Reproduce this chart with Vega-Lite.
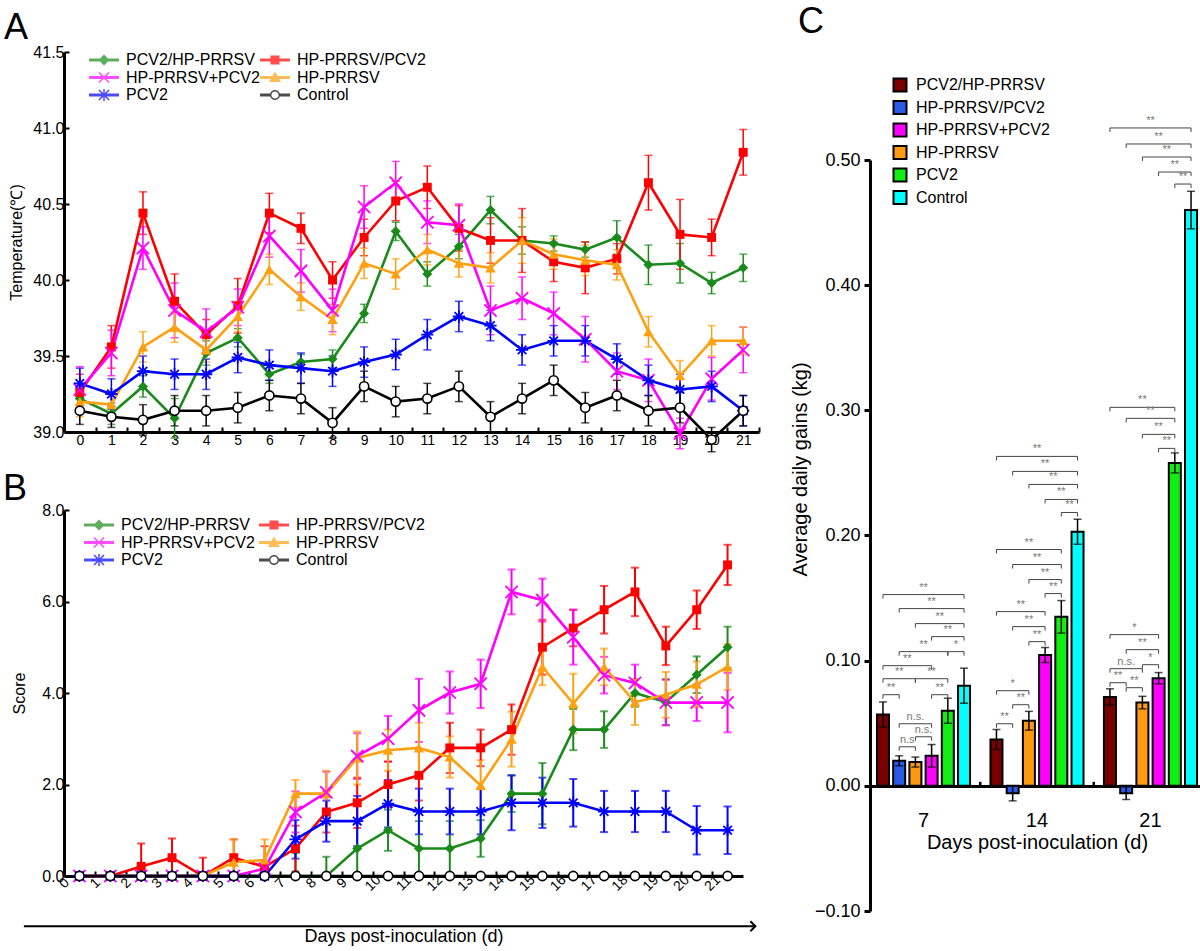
{
"$schema": "https://vega.github.io/schema/vega-lite/v6.json",
"padding": {"left": 3, "top": 4, "right": 2, "bottom": 2},
"background": "white",
"config": {
 "font": "Liberation Sans",
 "view": {"stroke": null},
 "axis": {"labelFont": "Liberation Sans", "titleFont": "Liberation Sans", "labelColor": "black", "titleColor": "black", "domainColor": "black", "tickColor": "black", "domainWidth": 3, "tickWidth": 2, "grid": false, "titleFontWeight": "normal"},
 "legend": {"labelFont": "Liberation Sans", "labelColor": "black"},
 "title": {"font": "Liberation Sans", "fontWeight": "normal", "color": "black"}
},
"datasets": {
 "temp": [
{"day":0,"g":"PCV2/HP-PRRSV","v":39.22,"e":0.06},{"day":1,"g":"PCV2/HP-PRRSV","v":39.12,"e":0.07},{"day":2,"g":"PCV2/HP-PRRSV","v":39.30,"e":0.07},{"day":3,"g":"PCV2/HP-PRRSV","v":39.09,"e":0.13},{"day":4,"g":"PCV2/HP-PRRSV","v":39.52,"e":0.08},{"day":5,"g":"PCV2/HP-PRRSV","v":39.62,"e":0.06},{"day":6,"g":"PCV2/HP-PRRSV","v":39.38,"e":0.06},{"day":7,"g":"PCV2/HP-PRRSV","v":39.46,"e":0.05},{"day":8,"g":"PCV2/HP-PRRSV","v":39.48,"e":0.06},{"day":9,"g":"PCV2/HP-PRRSV","v":39.78,"e":0.06},{"day":10,"g":"PCV2/HP-PRRSV","v":40.32,"e":0.06},{"day":11,"g":"PCV2/HP-PRRSV","v":40.04,"e":0.08},{"day":12,"g":"PCV2/HP-PRRSV","v":40.22,"e":0.08},{"day":13,"g":"PCV2/HP-PRRSV","v":40.46,"e":0.09},{"day":14,"g":"PCV2/HP-PRRSV","v":40.26,"e":0.09},{"day":15,"g":"PCV2/HP-PRRSV","v":40.24,"e":0.05},{"day":16,"g":"PCV2/HP-PRRSV","v":40.20,"e":0.05},{"day":17,"g":"PCV2/HP-PRRSV","v":40.28,"e":0.11},{"day":18,"g":"PCV2/HP-PRRSV","v":40.10,"e":0.13},{"day":19,"g":"PCV2/HP-PRRSV","v":40.11,"e":0.13},{"day":20,"g":"PCV2/HP-PRRSV","v":39.98,"e":0.07},{"day":21,"g":"PCV2/HP-PRRSV","v":40.08,"e":0.09},
{"day":0,"g":"HP-PRRSV/PCV2","v":39.26,"e":0.12},{"day":1,"g":"HP-PRRSV/PCV2","v":39.56,"e":0.14},{"day":2,"g":"HP-PRRSV/PCV2","v":40.44,"e":0.14},{"day":3,"g":"HP-PRRSV/PCV2","v":39.86,"e":0.18},{"day":4,"g":"HP-PRRSV/PCV2","v":39.64,"e":0.10},{"day":5,"g":"HP-PRRSV/PCV2","v":39.83,"e":0.18},{"day":6,"g":"HP-PRRSV/PCV2","v":40.44,"e":0.13},{"day":7,"g":"HP-PRRSV/PCV2","v":40.34,"e":0.10},{"day":8,"g":"HP-PRRSV/PCV2","v":40.00,"e":0.12},{"day":9,"g":"HP-PRRSV/PCV2","v":40.28,"e":0.12},{"day":10,"g":"HP-PRRSV/PCV2","v":40.52,"e":0.13},{"day":11,"g":"HP-PRRSV/PCV2","v":40.61,"e":0.14},{"day":12,"g":"HP-PRRSV/PCV2","v":40.34,"e":0.15},{"day":13,"g":"HP-PRRSV/PCV2","v":40.26,"e":0.15},{"day":14,"g":"HP-PRRSV/PCV2","v":40.26,"e":0.21},{"day":15,"g":"HP-PRRSV/PCV2","v":40.12,"e":0.13},{"day":16,"g":"HP-PRRSV/PCV2","v":40.08,"e":0.17},{"day":17,"g":"HP-PRRSV/PCV2","v":40.14,"e":0.10},{"day":18,"g":"HP-PRRSV/PCV2","v":40.64,"e":0.18},{"day":19,"g":"HP-PRRSV/PCV2","v":40.30,"e":0.23},{"day":20,"g":"HP-PRRSV/PCV2","v":40.28,"e":0.12},{"day":21,"g":"HP-PRRSV/PCV2","v":40.84,"e":0.15},
{"day":0,"g":"HP-PRRSV+PCV2","v":39.28,"e":0.15},{"day":1,"g":"HP-PRRSV+PCV2","v":39.52,"e":0.15},{"day":2,"g":"HP-PRRSV+PCV2","v":40.21,"e":0.14},{"day":3,"g":"HP-PRRSV+PCV2","v":39.80,"e":0.18},{"day":4,"g":"HP-PRRSV+PCV2","v":39.66,"e":0.15},{"day":5,"g":"HP-PRRSV+PCV2","v":39.82,"e":0.12},{"day":6,"g":"HP-PRRSV+PCV2","v":40.29,"e":0.14},{"day":7,"g":"HP-PRRSV+PCV2","v":40.06,"e":0.14},{"day":8,"g":"HP-PRRSV+PCV2","v":39.80,"e":0.14},{"day":9,"g":"HP-PRRSV+PCV2","v":40.48,"e":0.14},{"day":10,"g":"HP-PRRSV+PCV2","v":40.64,"e":0.14},{"day":11,"g":"HP-PRRSV+PCV2","v":40.38,"e":0.14},{"day":12,"g":"HP-PRRSV+PCV2","v":40.36,"e":0.14},{"day":13,"g":"HP-PRRSV+PCV2","v":39.80,"e":0.16},{"day":14,"g":"HP-PRRSV+PCV2","v":39.88,"e":0.14},{"day":15,"g":"HP-PRRSV+PCV2","v":39.78,"e":0.14},{"day":16,"g":"HP-PRRSV+PCV2","v":39.61,"e":0.15},{"day":17,"g":"HP-PRRSV+PCV2","v":39.40,"e":0.12},{"day":18,"g":"HP-PRRSV+PCV2","v":39.34,"e":0.14},{"day":19,"g":"HP-PRRSV+PCV2","v":38.99,"e":0.10},{"day":20,"g":"HP-PRRSV+PCV2","v":39.35,"e":0.14},{"day":21,"g":"HP-PRRSV+PCV2","v":39.54,"e":0.15},
{"day":0,"g":"HP-PRRSV","v":39.20,"e":0.10},{"day":1,"g":"HP-PRRSV","v":39.18,"e":0.08},{"day":2,"g":"HP-PRRSV","v":39.56,"e":0.10},{"day":3,"g":"HP-PRRSV","v":39.69,"e":0.10},{"day":4,"g":"HP-PRRSV","v":39.54,"e":0.08},{"day":5,"g":"HP-PRRSV","v":39.76,"e":0.10},{"day":6,"g":"HP-PRRSV","v":40.07,"e":0.10},{"day":7,"g":"HP-PRRSV","v":39.89,"e":0.09},{"day":8,"g":"HP-PRRSV","v":39.74,"e":0.10},{"day":9,"g":"HP-PRRSV","v":40.11,"e":0.10},{"day":10,"g":"HP-PRRSV","v":40.04,"e":0.10},{"day":11,"g":"HP-PRRSV","v":40.20,"e":0.10},{"day":12,"g":"HP-PRRSV","v":40.11,"e":0.09},{"day":13,"g":"HP-PRRSV","v":40.08,"e":0.10},{"day":14,"g":"HP-PRRSV","v":40.26,"e":0.15},{"day":15,"g":"HP-PRRSV","v":40.17,"e":0.10},{"day":16,"g":"HP-PRRSV","v":40.13,"e":0.10},{"day":17,"g":"HP-PRRSV","v":40.10,"e":0.10},{"day":18,"g":"HP-PRRSV","v":39.66,"e":0.10},{"day":19,"g":"HP-PRRSV","v":39.37,"e":0.10},{"day":20,"g":"HP-PRRSV","v":39.60,"e":0.10},{"day":21,"g":"HP-PRRSV","v":39.60,"e":0.09},
{"day":0,"g":"PCV2","v":39.32,"e":0.10},{"day":1,"g":"PCV2","v":39.25,"e":0.10},{"day":2,"g":"PCV2","v":39.40,"e":0.10},{"day":3,"g":"PCV2","v":39.38,"e":0.10},{"day":4,"g":"PCV2","v":39.38,"e":0.10},{"day":5,"g":"PCV2","v":39.49,"e":0.10},{"day":6,"g":"PCV2","v":39.44,"e":0.10},{"day":7,"g":"PCV2","v":39.42,"e":0.10},{"day":8,"g":"PCV2","v":39.40,"e":0.10},{"day":9,"g":"PCV2","v":39.46,"e":0.10},{"day":10,"g":"PCV2","v":39.51,"e":0.10},{"day":11,"g":"PCV2","v":39.64,"e":0.10},{"day":12,"g":"PCV2","v":39.76,"e":0.10},{"day":13,"g":"PCV2","v":39.70,"e":0.10},{"day":14,"g":"PCV2","v":39.54,"e":0.10},{"day":15,"g":"PCV2","v":39.60,"e":0.10},{"day":16,"g":"PCV2","v":39.60,"e":0.10},{"day":17,"g":"PCV2","v":39.48,"e":0.10},{"day":18,"g":"PCV2","v":39.34,"e":0.10},{"day":19,"g":"PCV2","v":39.28,"e":0.10},{"day":20,"g":"PCV2","v":39.30,"e":0.10},{"day":21,"g":"PCV2","v":39.14,"e":0.10},
{"day":0,"g":"Control","v":39.14,"e":0.09},{"day":1,"g":"Control","v":39.10,"e":0.07},{"day":2,"g":"Control","v":39.08,"e":0.10},{"day":3,"g":"Control","v":39.14,"e":0.10},{"day":4,"g":"Control","v":39.14,"e":0.10},{"day":5,"g":"Control","v":39.16,"e":0.10},{"day":6,"g":"Control","v":39.24,"e":0.10},{"day":7,"g":"Control","v":39.22,"e":0.10},{"day":8,"g":"Control","v":39.06,"e":0.10},{"day":9,"g":"Control","v":39.30,"e":0.10},{"day":10,"g":"Control","v":39.20,"e":0.10},{"day":11,"g":"Control","v":39.22,"e":0.10},{"day":12,"g":"Control","v":39.30,"e":0.10},{"day":13,"g":"Control","v":39.10,"e":0.10},{"day":14,"g":"Control","v":39.22,"e":0.10},{"day":15,"g":"Control","v":39.34,"e":0.10},{"day":16,"g":"Control","v":39.16,"e":0.10},{"day":17,"g":"Control","v":39.24,"e":0.10},{"day":18,"g":"Control","v":39.14,"e":0.10},{"day":19,"g":"Control","v":39.16,"e":0.10},{"day":20,"g":"Control","v":38.95,"e":0.08},{"day":21,"g":"Control","v":39.14,"e":0.10}
 ],
 "score": [
{"day":0,"g":"PCV2/HP-PRRSV","v":0,"e":0},{"day":1,"g":"PCV2/HP-PRRSV","v":0,"e":0},{"day":2,"g":"PCV2/HP-PRRSV","v":0,"e":0},{"day":3,"g":"PCV2/HP-PRRSV","v":0,"e":0},{"day":4,"g":"PCV2/HP-PRRSV","v":0,"e":0},{"day":5,"g":"PCV2/HP-PRRSV","v":0,"e":0},{"day":6,"g":"PCV2/HP-PRRSV","v":0,"e":0},{"day":7,"g":"PCV2/HP-PRRSV","v":0,"e":0.5},{"day":8,"g":"PCV2/HP-PRRSV","v":0,"e":0.42},{"day":9,"g":"PCV2/HP-PRRSV","v":0.6,"e":0.55},{"day":10,"g":"PCV2/HP-PRRSV","v":1.0,"e":0.45},{"day":11,"g":"PCV2/HP-PRRSV","v":0.6,"e":0.6},{"day":12,"g":"PCV2/HP-PRRSV","v":0.6,"e":0.6},{"day":13,"g":"PCV2/HP-PRRSV","v":0.82,"e":0.4},{"day":14,"g":"PCV2/HP-PRRSV","v":1.8,"e":0.4},{"day":15,"g":"PCV2/HP-PRRSV","v":1.8,"e":0.67},{"day":16,"g":"PCV2/HP-PRRSV","v":3.2,"e":0.45},{"day":17,"g":"PCV2/HP-PRRSV","v":3.2,"e":0.4},{"day":18,"g":"PCV2/HP-PRRSV","v":4.0,"e":0.3},{"day":19,"g":"PCV2/HP-PRRSV","v":3.8,"e":0.5},{"day":20,"g":"PCV2/HP-PRRSV","v":4.4,"e":0.4},{"day":21,"g":"PCV2/HP-PRRSV","v":5.0,"e":0.45},
{"day":0,"g":"HP-PRRSV/PCV2","v":0,"e":0},{"day":1,"g":"HP-PRRSV/PCV2","v":0,"e":0},{"day":2,"g":"HP-PRRSV/PCV2","v":0.21,"e":0.5},{"day":3,"g":"HP-PRRSV/PCV2","v":0.4,"e":0.42},{"day":4,"g":"HP-PRRSV/PCV2","v":0,"e":0.4},{"day":5,"g":"HP-PRRSV/PCV2","v":0.4,"e":0.4},{"day":6,"g":"HP-PRRSV/PCV2","v":0.2,"e":0.45},{"day":7,"g":"HP-PRRSV/PCV2","v":0.6,"e":0.5},{"day":8,"g":"HP-PRRSV/PCV2","v":1.4,"e":0.45},{"day":9,"g":"HP-PRRSV/PCV2","v":1.6,"e":0.55},{"day":10,"g":"HP-PRRSV/PCV2","v":2.0,"e":0.5},{"day":11,"g":"HP-PRRSV/PCV2","v":2.2,"e":0.55},{"day":12,"g":"HP-PRRSV/PCV2","v":2.8,"e":0.55},{"day":13,"g":"HP-PRRSV/PCV2","v":2.8,"e":0.4},{"day":14,"g":"HP-PRRSV/PCV2","v":3.2,"e":0.55},{"day":15,"g":"HP-PRRSV/PCV2","v":5.0,"e":0.6},{"day":16,"g":"HP-PRRSV/PCV2","v":5.42,"e":0.4},{"day":17,"g":"HP-PRRSV/PCV2","v":5.82,"e":0.52},{"day":18,"g":"HP-PRRSV/PCV2","v":6.21,"e":0.53},{"day":19,"g":"HP-PRRSV/PCV2","v":5.03,"e":0.42},{"day":20,"g":"HP-PRRSV/PCV2","v":5.82,"e":0.42},{"day":21,"g":"HP-PRRSV/PCV2","v":6.8,"e":0.44},
{"day":0,"g":"HP-PRRSV+PCV2","v":0,"e":0},{"day":1,"g":"HP-PRRSV+PCV2","v":0,"e":0},{"day":2,"g":"HP-PRRSV+PCV2","v":0,"e":0},{"day":3,"g":"HP-PRRSV+PCV2","v":0,"e":0},{"day":4,"g":"HP-PRRSV+PCV2","v":0,"e":0},{"day":5,"g":"HP-PRRSV+PCV2","v":0,"e":0},{"day":6,"g":"HP-PRRSV+PCV2","v":0.16,"e":0},{"day":7,"g":"HP-PRRSV+PCV2","v":1.4,"e":0.45},{"day":8,"g":"HP-PRRSV+PCV2","v":1.83,"e":0.45},{"day":9,"g":"HP-PRRSV+PCV2","v":2.62,"e":0.5},{"day":10,"g":"HP-PRRSV+PCV2","v":3.0,"e":0.5},{"day":11,"g":"HP-PRRSV+PCV2","v":3.62,"e":0.69},{"day":12,"g":"HP-PRRSV+PCV2","v":4.01,"e":0.46},{"day":13,"g":"HP-PRRSV+PCV2","v":4.2,"e":0.53},{"day":14,"g":"HP-PRRSV+PCV2","v":6.21,"e":0.49},{"day":15,"g":"HP-PRRSV+PCV2","v":6.03,"e":0.47},{"day":16,"g":"HP-PRRSV+PCV2","v":5.22,"e":0.6},{"day":17,"g":"HP-PRRSV+PCV2","v":4.39,"e":0.4},{"day":18,"g":"HP-PRRSV+PCV2","v":4.22,"e":0.4},{"day":19,"g":"HP-PRRSV+PCV2","v":3.79,"e":0.5},{"day":20,"g":"HP-PRRSV+PCV2","v":3.79,"e":0.4},{"day":21,"g":"HP-PRRSV+PCV2","v":3.79,"e":0.65},
{"day":0,"g":"HP-PRRSV","v":0,"e":0},{"day":1,"g":"HP-PRRSV","v":0,"e":0},{"day":2,"g":"HP-PRRSV","v":0,"e":0},{"day":3,"g":"HP-PRRSV","v":0,"e":0},{"day":4,"g":"HP-PRRSV","v":0,"e":0},{"day":5,"g":"HP-PRRSV","v":0.3,"e":0.5},{"day":6,"g":"HP-PRRSV","v":0.35,"e":0.45},{"day":7,"g":"HP-PRRSV","v":1.8,"e":0.3},{"day":8,"g":"HP-PRRSV","v":1.8,"e":0.5},{"day":9,"g":"HP-PRRSV","v":2.58,"e":0.58},{"day":10,"g":"HP-PRRSV","v":2.75,"e":0.45},{"day":11,"g":"HP-PRRSV","v":2.8,"e":0.55},{"day":12,"g":"HP-PRRSV","v":2.6,"e":0.45},{"day":13,"g":"HP-PRRSV","v":1.98,"e":0.55},{"day":14,"g":"HP-PRRSV","v":2.99,"e":0.6},{"day":15,"g":"HP-PRRSV","v":4.57,"e":0.4},{"day":16,"g":"HP-PRRSV","v":3.77,"e":0.65},{"day":17,"g":"HP-PRRSV","v":4.57,"e":0.4},{"day":18,"g":"HP-PRRSV","v":3.8,"e":0.5},{"day":19,"g":"HP-PRRSV","v":3.96,"e":0.5},{"day":20,"g":"HP-PRRSV","v":4.19,"e":0.5},{"day":21,"g":"HP-PRRSV","v":4.57,"e":0.5},
{"day":0,"g":"PCV2","v":0,"e":0},{"day":1,"g":"PCV2","v":0,"e":0},{"day":2,"g":"PCV2","v":0,"e":0},{"day":3,"g":"PCV2","v":0,"e":0},{"day":4,"g":"PCV2","v":0,"e":0},{"day":5,"g":"PCV2","v":0,"e":0},{"day":6,"g":"PCV2","v":0,"e":0},{"day":7,"g":"PCV2","v":0.8,"e":0.42},{"day":8,"g":"PCV2","v":1.2,"e":0.45},{"day":9,"g":"PCV2","v":1.2,"e":0.55},{"day":10,"g":"PCV2","v":1.58,"e":0.52},{"day":11,"g":"PCV2","v":1.41,"e":0.5},{"day":12,"g":"PCV2","v":1.41,"e":0.5},{"day":13,"g":"PCV2","v":1.41,"e":0.5},{"day":14,"g":"PCV2","v":1.6,"e":0.6},{"day":15,"g":"PCV2","v":1.6,"e":0.55},{"day":16,"g":"PCV2","v":1.6,"e":0.52},{"day":17,"g":"PCV2","v":1.41,"e":0.45},{"day":18,"g":"PCV2","v":1.41,"e":0.45},{"day":19,"g":"PCV2","v":1.41,"e":0.45},{"day":20,"g":"PCV2","v":1.0,"e":0.53},{"day":21,"g":"PCV2","v":1.0,"e":0.52},
{"day":0,"g":"Control","v":0,"e":0},{"day":1,"g":"Control","v":0,"e":0},{"day":2,"g":"Control","v":0,"e":0},{"day":3,"g":"Control","v":0,"e":0},{"day":4,"g":"Control","v":0,"e":0},{"day":5,"g":"Control","v":0,"e":0},{"day":6,"g":"Control","v":0,"e":0},{"day":7,"g":"Control","v":0,"e":0},{"day":8,"g":"Control","v":0,"e":0},{"day":9,"g":"Control","v":0,"e":0},{"day":10,"g":"Control","v":0,"e":0},{"day":11,"g":"Control","v":0,"e":0},{"day":12,"g":"Control","v":0,"e":0},{"day":13,"g":"Control","v":0,"e":0},{"day":14,"g":"Control","v":0,"e":0},{"day":15,"g":"Control","v":0,"e":0},{"day":16,"g":"Control","v":0,"e":0},{"day":17,"g":"Control","v":0,"e":0},{"day":18,"g":"Control","v":0,"e":0},{"day":19,"g":"Control","v":0,"e":0},{"day":20,"g":"Control","v":0,"e":0},{"day":21,"g":"Control","v":0,"e":0}
 ],
 "adg": [
{"day":7,"bar":"7-1","g":"PCV2/HP-PRRSV","v":0.057,"e":0.010},{"day":7,"bar":"7-2","g":"HP-PRRSV/PCV2","v":0.020,"e":0.004},{"day":7,"bar":"7-3","g":"HP-PRRSV","v":0.019,"e":0.004},{"day":7,"bar":"7-4","g":"HP-PRRSV+PCV2","v":0.024,"e":0.009},{"day":7,"bar":"7-5","g":"PCV2","v":0.060,"e":0.010},{"day":7,"bar":"7-6","g":"Control","v":0.080,"e":0.014},
{"day":14,"bar":"14-1","g":"PCV2/HP-PRRSV","v":0.037,"e":0.008},{"day":14,"bar":"14-2","g":"HP-PRRSV/PCV2","v":-0.006,"e":0.006},{"day":14,"bar":"14-3","g":"HP-PRRSV","v":0.052,"e":0.0075},{"day":14,"bar":"14-4","g":"HP-PRRSV+PCV2","v":0.1045,"e":0.006},{"day":14,"bar":"14-5","g":"PCV2","v":0.135,"e":0.013},{"day":14,"bar":"14-6","g":"Control","v":0.203,"e":0.010},
{"day":21,"bar":"21-1","g":"PCV2/HP-PRRSV","v":0.071,"e":0.0065},{"day":21,"bar":"21-2","g":"HP-PRRSV/PCV2","v":-0.006,"e":0.005},{"day":21,"bar":"21-3","g":"HP-PRRSV","v":0.0665,"e":0.005},{"day":21,"bar":"21-4","g":"HP-PRRSV+PCV2","v":0.086,"e":0.0045},{"day":21,"bar":"21-5","g":"PCV2","v":0.258,"e":0.008},{"day":21,"bar":"21-6","g":"Control","v":0.46,"e":0.015}
 ],
 "sig": [
{"from":"7-1","to":"7-6","lvl":0.1528,"lab":"**","at":"7-3","half":true},
{"from":"7-2","to":"7-6","lvl":0.1416,"lab":"**","at":"7-4","half":false},
{"from":"7-3","to":"7-6","lvl":0.1296,"lab":"**","at":"7-4","half":true},
{"from":"7-4","to":"7-6","lvl":0.1192,"lab":"**","at":"7-5","half":false},
{"from":"7-2","to":"7-5","lvl":0.1072,"lab":"**","at":"7-3","half":true},
{"from":"7-5","to":"7-6","lvl":0.1072,"lab":"*","at":"7-5","half":true},
{"from":"7-1","to":"7-4","lvl":0.096,"lab":"**","at":"7-2","half":true},
{"from":"7-1","to":"7-3","lvl":0.0856,"lab":"**","at":"7-2","half":false},
{"from":"7-3","to":"7-5","lvl":0.0856,"lab":"**","at":"7-4","half":false},
{"from":"7-1","to":"7-2","lvl":0.0728,"lab":"**","at":"7-1","half":true},
{"from":"7-4","to":"7-5","lvl":0.0728,"lab":"**","at":"7-4","half":true},
{"from":"7-2","to":"7-4","lvl":0.0496,"lab":"n.s.","at":"7-3","half":false},
{"from":"7-3","to":"7-4","lvl":0.0392,"lab":"n.s.","at":"7-3","half":true},
{"from":"7-2","to":"7-3","lvl":0.0312,"lab":"n.s","at":"7-2","half":true},
{"from":"14-1","to":"14-6","lvl":0.2632,"lab":"**","at":"14-3","half":true},
{"from":"14-2","to":"14-6","lvl":0.2512,"lab":"**","at":"14-4","half":false},
{"from":"14-3","to":"14-6","lvl":0.2408,"lab":"**","at":"14-4","half":true},
{"from":"14-4","to":"14-6","lvl":0.2288,"lab":"**","at":"14-5","half":false},
{"from":"14-5","to":"14-6","lvl":0.2184,"lab":"**","at":"14-5","half":true},
{"from":"14-1","to":"14-5","lvl":0.1888,"lab":"**","at":"14-3","half":false},
{"from":"14-2","to":"14-5","lvl":0.1768,"lab":"**","at":"14-3","half":true},
{"from":"14-3","to":"14-5","lvl":0.1648,"lab":"**","at":"14-4","half":false},
{"from":"14-4","to":"14-5","lvl":0.1536,"lab":"**","at":"14-4","half":true},
{"from":"14-1","to":"14-4","lvl":0.1392,"lab":"**","at":"14-2","half":true},
{"from":"14-2","to":"14-4","lvl":0.1272,"lab":"**","at":"14-3","half":false},
{"from":"14-3","to":"14-4","lvl":0.1152,"lab":"**","at":"14-3","half":true},
{"from":"14-1","to":"14-3","lvl":0.076,"lab":"*","at":"14-2","half":false},
{"from":"14-2","to":"14-3","lvl":0.0648,"lab":"**","at":"14-2","half":true},
{"from":"14-1","to":"14-2","lvl":0.0496,"lab":"**","at":"14-1","half":true},
{"from":"21-1","to":"21-6","lvl":0.5256,"lab":"**","at":"21-3","half":true},
{"from":"21-2","to":"21-6","lvl":0.5128,"lab":"**","at":"21-4","half":false},
{"from":"21-3","to":"21-6","lvl":0.5024,"lab":"**","at":"21-4","half":true},
{"from":"21-4","to":"21-6","lvl":0.4904,"lab":"**","at":"21-5","half":false},
{"from":"21-5","to":"21-6","lvl":0.4808,"lab":"**","at":"21-5","half":true},
{"from":"21-1","to":"21-5","lvl":0.3024,"lab":"**","at":"21-3","half":false},
{"from":"21-2","to":"21-5","lvl":0.2936,"lab":"**","at":"21-3","half":true},
{"from":"21-3","to":"21-5","lvl":0.2808,"lab":"**","at":"21-4","half":false},
{"from":"21-4","to":"21-5","lvl":0.2696,"lab":"**","at":"21-4","half":true},
{"from":"21-1","to":"21-4","lvl":0.1208,"lab":"*","at":"21-2","half":true},
{"from":"21-2","to":"21-4","lvl":0.1088,"lab":"**","at":"21-3","half":false},
{"from":"21-1","to":"21-3","lvl":0.0936,"lab":"n.s.","at":"21-2","half":false},
{"from":"21-3","to":"21-4","lvl":0.0968,"lab":"*","at":"21-3","half":true},
{"from":"21-1","to":"21-2","lvl":0.0824,"lab":"**","at":"21-1","half":true},
{"from":"21-2","to":"21-3","lvl":0.0784,"lab":"**","at":"21-2","half":true}
 ],
 "gaps": [{"bar":"gap1"},{"bar":"gap2"}]
},
"spacing": 30,
"resolve": {"scale": {"color": "independent"}, "legend": {"color": "independent"}},
"hconcat": [
 {
 "spacing": 18,
 "resolve": {"scale": {"color": "independent", "shape": "independent"}, "legend": {"color": "independent", "shape": "independent"}},
 "vconcat": [
  {
  "title": {"text": "A", "anchor": "start", "frame": "group", "fontSize": 36, "dx": -60, "offset": -3},
  "width": 695, "height": 380,
  "data": {"name": "temp"},
  "encoding": {
   "x": {"field": "day", "type": "quantitative", "title": null, "scale": {"domain": [-0.5, 21.5], "nice": false, "zero": false},
     "axis": {"values": [0,1,2,3,4,5,6,7,8,9,10,11,12,13,14,15,16,17,18,19,20,21], "tickOffset": 15.8, "labelOffset": -15.8, "tickSize": -5, "labelPadding": 6, "labelFontSize": 14, "labelAngle": 0, "labelFlush": false, "labelOverlap": false, "title": null}},
   "y": {"field": "v", "type": "quantitative", "title": "Temperature(℃)", "scale": {"domain": [39, 41.5], "nice": false, "zero": false},
     "axis": {"values": [39, 39.5, 40, 40.5, 41, 41.5], "format": ".1f", "tickSize": -5, "labelPadding": 5, "labelFontSize": 16, "title": "Temperature(℃)", "titleFontSize": 16, "titlePadding": 8}}
  },
  "layer": [
   {"transform": [{"filter": "datum.day < -50"}],
    "mark": {"type": "point", "filled": true, "opacity": 1},
    "encoding": {
     "color": {"field": "g", "type": "nominal", "scale": {"domain": ["PCV2/HP-PRRSV","HP-PRRSV+PCV2","PCV2","HP-PRRSV/PCV2","HP-PRRSV","Control"], "range": ["#1a8a1a","#ff00ff","#0000ff","#ff0000","#ffa010","#000000"]},
       "legend": {"orient": "none", "legendX": 32, "legendY": 0, "title": null, "columns": 2, "labelFontSize": 16, "symbolSize": 100, "labelOffset": 14, "rowPadding": 1.5, "columnPadding": 0, "padding": 0, "symbolStrokeWidth": 0, "symbolOpacity": 1, "labelLimit": 300}},
     "shape": {"field": "g", "type": "nominal", "scale": {"domain": ["PCV2/HP-PRRSV","HP-PRRSV+PCV2","PCV2","HP-PRRSV/PCV2","HP-PRRSV","Control"], "range": [
       "M-3,-0.3H3V0.3H-3Z M0,-1.1L1.1,0L0,1.1L-1.1,0Z",
       "M-3,-0.3H3V0.3H-3Z M-0.89,-1.11L1.11,0.89L0.89,1.11L-1.11,-0.89Z M-1.11,0.89L0.89,-1.11L1.11,-0.89L-0.89,1.11Z",
       "M-3,-0.3H3V0.3H-3Z M-0.89,-1.11L1.11,0.89L0.89,1.11L-1.11,-0.89Z M-1.11,0.89L0.89,-1.11L1.11,-0.89L-0.89,1.11Z M-0.15,-1.2H0.15V1.2H-0.15Z",
       "M-3,-0.3H3V0.3H-3Z M-0.9,-0.9H0.9V0.9H-0.9Z",
       "M-3,-0.3H3V0.3H-3Z M0,-1.2L1.2,0.9H-1.2Z",
       "M-3,-0.3H-0.95V0.3H-3Z M0.95,-0.3H3V0.3H0.95Z M0,-1A1,1 0 1,1 0,1A1,1 0 1,1 0,-1Z M0,-0.72A0.72,0.72 0 1,0 0,0.72A0.72,0.72 0 1,0 0,-0.72Z"]},
       "legend": {"orient": "none", "legendX": 32, "legendY": 0, "title": null, "columns": 2, "labelFontSize": 16, "symbolSize": 100, "labelOffset": 14, "rowPadding": 1.5, "columnPadding": 0, "padding": 0, "symbolStrokeWidth": 0, "symbolOpacity": 1, "labelLimit": 300}}
    }},
   {"mark": {"type": "errorbar", "thickness": 1.5, "ticks": {"size": 8, "thickness": 1.5}},
    "encoding": {"yError": {"field": "e"}, "color": {"field": "g", "type": "nominal"}}},
   {"mark": {"type": "line", "strokeWidth": 2.6},
    "encoding": {"color": {"field": "g", "type": "nominal"}}},
   {"transform": [{"filter": {"field": "g", "oneOf": ["PCV2/HP-PRRSV","HP-PRRSV/PCV2","HP-PRRSV"]}}],
    "mark": {"type": "point", "filled": true, "opacity": 1},
    "encoding": {"color": {"field": "g", "type": "nominal"},
     "shape": {"condition": [{"test": "datum.g === 'PCV2/HP-PRRSV'", "value": "diamond"}, {"test": "datum.g === 'HP-PRRSV/PCV2'", "value": "square"}], "value": "triangle-up"},
     "size": {"condition": [{"test": "datum.g === 'PCV2/HP-PRRSV'", "value": 100}, {"test": "datum.g === 'HP-PRRSV/PCV2'", "value": 80}], "value": 110}}},
   {"transform": [{"filter": {"field": "g", "oneOf": ["HP-PRRSV+PCV2","PCV2"]}}],
    "mark": {"type": "point", "filled": false, "opacity": 1, "strokeWidth": 1.8, "size": 150},
    "encoding": {"color": {"field": "g", "type": "nominal"},
     "shape": {"condition": {"test": "datum.g === 'PCV2'", "value": "M-1,0L1,0M0,-1L0,1M-0.7,-0.7L0.7,0.7M-0.7,0.7L0.7,-0.7"}, "value": "M-1,-1L1,1M-1,1L1,-1"}}},
   {"transform": [{"filter": {"field": "g", "equal": "Control"}}],
    "mark": {"type": "point", "shape": "circle", "filled": false, "fill": "white", "opacity": 1, "strokeWidth": 1.6, "size": 85},
    "encoding": {"color": {"field": "g", "type": "nominal"}}}
  ]
  },
  {
  "title": {"text": "B", "anchor": "start", "frame": "group", "fontSize": 36, "dx": -61, "offset": -6},
  "width": 679, "height": 366,
  "data": {"name": "score"},
  "encoding": {
   "x": {"field": "day", "type": "quantitative", "title": "Days post-inoculation (d)", "scale": {"domain": [-0.5, 21.5], "nice": false, "zero": false},
     "axis": {"values": [-0.5,0.5,1.5,2.5,3.5,4.5,5.5,6.5,7.5,8.5,9.5,10.5,11.5,12.5,13.5,14.5,15.5,16.5,17.5,18.5,19.5,20.5], "labelExpr": "format(datum.value + 0.5, 'd')", "tickSize": -5, "labelAngle": -45, "labelAlign": "center", "labelBaseline": "middle", "labelPadding": 12, "labelFontSize": 14, "labelFlush": false, "labelOverlap": false, "title": "Days post-inoculation (d)", "titleFontSize": 18, "titlePadding": 34}},
   "y": {"field": "v", "type": "quantitative", "title": "Score", "scale": {"domain": [0, 8], "nice": false},
     "axis": {"values": [0, 2, 4, 6, 8], "format": ".1f", "tickSize": -5, "labelPadding": 5, "labelFontSize": 16, "title": "Score", "titleFontSize": 16, "titlePadding": 14}}
  },
  "layer": [
   {"transform": [{"filter": "datum.day < -50"}],
    "mark": {"type": "point", "filled": true, "opacity": 1},
    "encoding": {
     "color": {"field": "g", "type": "nominal", "scale": {"domain": ["PCV2/HP-PRRSV","HP-PRRSV+PCV2","PCV2","HP-PRRSV/PCV2","HP-PRRSV","Control"], "range": ["#1a8a1a","#ff00ff","#0000ff","#ff0000","#ffa010","#000000"]},
       "legend": {"orient": "none", "legendX": 27, "legendY": 7, "title": null, "columns": 2, "labelFontSize": 16, "symbolSize": 100, "labelOffset": 14, "rowPadding": 1.5, "columnPadding": 4, "padding": 0, "symbolStrokeWidth": 0, "symbolOpacity": 1, "labelLimit": 300}},
     "shape": {"field": "g", "type": "nominal", "scale": {"domain": ["PCV2/HP-PRRSV","HP-PRRSV+PCV2","PCV2","HP-PRRSV/PCV2","HP-PRRSV","Control"], "range": [
       "M-3,-0.3H3V0.3H-3Z M0,-1.1L1.1,0L0,1.1L-1.1,0Z",
       "M-3,-0.3H3V0.3H-3Z M-0.89,-1.11L1.11,0.89L0.89,1.11L-1.11,-0.89Z M-1.11,0.89L0.89,-1.11L1.11,-0.89L-0.89,1.11Z",
       "M-3,-0.3H3V0.3H-3Z M-0.89,-1.11L1.11,0.89L0.89,1.11L-1.11,-0.89Z M-1.11,0.89L0.89,-1.11L1.11,-0.89L-0.89,1.11Z M-0.15,-1.2H0.15V1.2H-0.15Z",
       "M-3,-0.3H3V0.3H-3Z M-0.9,-0.9H0.9V0.9H-0.9Z",
       "M-3,-0.3H3V0.3H-3Z M0,-1.2L1.2,0.9H-1.2Z",
       "M-3,-0.3H-0.95V0.3H-3Z M0.95,-0.3H3V0.3H0.95Z M0,-1A1,1 0 1,1 0,1A1,1 0 1,1 0,-1Z M0,-0.72A0.72,0.72 0 1,0 0,0.72A0.72,0.72 0 1,0 0,-0.72Z"]},
       "legend": {"orient": "none", "legendX": 27, "legendY": 7, "title": null, "columns": 2, "labelFontSize": 16, "symbolSize": 100, "labelOffset": 14, "rowPadding": 1.5, "columnPadding": 4, "padding": 0, "symbolStrokeWidth": 0, "symbolOpacity": 1, "labelLimit": 300}}
    }},
   {"mark": {"type": "errorbar", "thickness": 2, "rule": {"clip": true}, "ticks": {"size": 8, "thickness": 2, "clip": true}},
    "encoding": {"yError": {"field": "e"}, "color": {"field": "g", "type": "nominal"}}},
   {"mark": {"type": "line", "strokeWidth": 2.6},
    "encoding": {"color": {"field": "g", "type": "nominal"}}},
   {"transform": [{"filter": {"field": "g", "oneOf": ["PCV2/HP-PRRSV","HP-PRRSV/PCV2","HP-PRRSV"]}}],
    "mark": {"type": "point", "filled": true, "opacity": 1},
    "encoding": {"color": {"field": "g", "type": "nominal"},
     "shape": {"condition": [{"test": "datum.g === 'PCV2/HP-PRRSV'", "value": "diamond"}, {"test": "datum.g === 'HP-PRRSV/PCV2'", "value": "square"}], "value": "triangle-up"},
     "size": {"condition": [{"test": "datum.g === 'PCV2/HP-PRRSV'", "value": 100}, {"test": "datum.g === 'HP-PRRSV/PCV2'", "value": 80}], "value": 110}}},
   {"transform": [{"filter": {"field": "g", "oneOf": ["HP-PRRSV+PCV2","PCV2"]}}],
    "mark": {"type": "point", "filled": false, "opacity": 1, "strokeWidth": 1.8, "size": 150},
    "encoding": {"color": {"field": "g", "type": "nominal"},
     "shape": {"condition": {"test": "datum.g === 'PCV2'", "value": "M-1,0L1,0M0,-1L0,1M-0.7,-0.7L0.7,0.7M-0.7,0.7L0.7,-0.7"}, "value": "M-1,-1L1,1M-1,1L1,-1"}}},
   {"transform": [{"filter": {"field": "g", "equal": "Control"}}],
    "mark": {"type": "point", "shape": "circle", "filled": false, "fill": "white", "opacity": 1, "strokeWidth": 1.6, "size": 85},
    "encoding": {"color": {"field": "g", "type": "nominal"}}},
   {"transform": [{"filter": "datum.day === 0 && datum.g === 'Control'"}],
    "mark": {"type": "rule", "color": "black", "strokeWidth": 2, "clip": false},
    "encoding": {"x": {"datum": -1.8, "type": "quantitative"}, "x2": {"datum": 21.9}, "y": {"datum": -1.1, "type": "quantitative"}}},
   {"transform": [{"filter": "datum.day === 0 && datum.g === 'Control'"}],
    "mark": {"type": "point", "shape": "M-1,-1L0,0L-1,1", "filled": false, "color": "black", "strokeWidth": 2, "size": 100, "opacity": 1, "clip": false},
    "encoding": {"x": {"datum": 21.9, "type": "quantitative"}, "y": {"datum": -1.1, "type": "quantitative"}}}
  ]
  }
 ]
 },
 {
 "spacing": 24,
 "resolve": {"scale": {"color": "independent"}, "legend": {"color": "independent"}},
 "vconcat": [
 {
  "title": {"text": "C", "anchor": "start", "frame": "group", "fontSize": 36, "dx": -72, "offset": 11},
  "width": 334, "height": 1,
  "data": {"values": []},
  "mark": "point"
 },
 {
 "width": 334, "height": 751,
 "layer": [
  {"data": {"name": "adg"},
   "mark": {"type": "bar", "stroke": "black", "strokeWidth": 2},
   "encoding": {
    "x": {"field": "bar", "type": "nominal", "sort": null, "title": "Days post-inoculation (d)",
      "scale": {"domain": ["7-1","7-2","7-3","7-4","7-5","7-6","gap1","14-1","14-2","14-3","14-4","14-5","14-6","gap2","21-1","21-2","21-3","21-4","21-5","21-6"], "paddingInner": 0.26, "paddingOuter": 0.43},
      "axis": {"offset": -125, "labelExpr": "datum.value === '7-3' ? '7' : datum.value === '14-3' ? '14' : datum.value === '21-3' ? '21' : ''", "labelOffset": 8.1, "labelAngle": 0, "labelFontSize": 20, "labelPadding": 24, "ticks": false, "labelOverlap": false, "title": "Days post-inoculation (d)", "titleFontSize": 20, "titlePadding": 2}},
    "y": {"field": "v", "type": "quantitative", "title": "Average daily gains (kg)", "scale": {"domain": [-0.1, 0.5], "nice": false},
      "axis": {"values": [-0.1, 0, 0.1, 0.2, 0.3, 0.4, 0.5], "format": ".2f", "labelFontSize": 18, "tickSize": 6, "tickWidth": 3, "labelPadding": 4, "title": "Average daily gains (kg)", "titleFontSize": 20, "titleX": -60, "titleY": 309}},
    "color": {"field": "g", "type": "nominal", "scale": {"domain": ["PCV2/HP-PRRSV","HP-PRRSV/PCV2","HP-PRRSV+PCV2","HP-PRRSV","PCV2","Control"], "range": ["#7a0000","#2a5ae8","#ff00ff","#ff9a10","#11ee11","#00ffff"]},
      "legend": {"orient": "none", "legendX": 22, "legendY": -83, "title": null, "symbolType": "square", "symbolSize": 169, "symbolStrokeColor": "black", "symbolStrokeWidth": 2, "labelFontSize": 16, "labelOffset": 8, "rowPadding": 0.5, "padding": 0, "labelLimit": 300}}
   }},
  {"data": {"name": "adg"},
   "mark": {"type": "errorbar", "color": "black", "thickness": 1.5, "ticks": {"size": 8, "thickness": 1.5}},
   "encoding": {"x": {"field": "bar", "type": "nominal", "title": "Days post-inoculation (d)"}, "y": {"field": "v", "type": "quantitative", "title": "Average daily gains (kg)"}, "yError": {"field": "e"}}},
  {"data": {"name": "gaps"},
   "mark": {"type": "point", "shape": "M0,0L0,-1", "filled": false, "color": "black", "strokeWidth": 2.5, "size": 64, "opacity": 1},
   "encoding": {"x": {"field": "bar", "type": "nominal", "title": "Days post-inoculation (d)"}, "y": {"datum": 0, "type": "quantitative", "title": "Average daily gains (kg)"}}},
  {"data": {"name": "sig"},
   "mark": {"type": "rule", "color": "#444444", "strokeWidth": 1},
   "encoding": {"x": {"field": "from", "type": "nominal", "title": "Days post-inoculation (d)"}, "x2": {"field": "to"}, "y": {"field": "lvl", "type": "quantitative", "title": "Average daily gains (kg)"}}},
  {"data": {"name": "sig"},
   "mark": {"type": "point", "shape": "M0,0L0,1", "filled": false, "color": "#444444", "strokeWidth": 1, "size": 64, "opacity": 1},
   "encoding": {"x": {"field": "from", "type": "nominal", "title": "Days post-inoculation (d)"}, "y": {"field": "lvl", "type": "quantitative", "title": "Average daily gains (kg)"}}},
  {"data": {"name": "sig"},
   "mark": {"type": "point", "shape": "M0,0L0,1", "filled": false, "color": "#444444", "strokeWidth": 1, "size": 64, "opacity": 1},
   "encoding": {"x": {"field": "to", "type": "nominal", "title": "Days post-inoculation (d)"}, "y": {"field": "lvl", "type": "quantitative", "title": "Average daily gains (kg)"}}},
  {"data": {"name": "sig"},
   "transform": [{"filter": "!datum.half"}],
   "mark": {"type": "text", "dy": -7, "fontSize": 11, "color": "#777777"},
   "encoding": {"x": {"field": "at", "type": "nominal", "title": "Days post-inoculation (d)"}, "y": {"field": "lvl", "type": "quantitative", "title": "Average daily gains (kg)"}, "text": {"field": "lab"}}},
  {"data": {"name": "sig"},
   "transform": [{"filter": "datum.half"}],
   "mark": {"type": "text", "dy": -7, "dx": 8.1, "fontSize": 11, "color": "#777777"},
   "encoding": {"x": {"field": "at", "type": "nominal", "title": "Days post-inoculation (d)"}, "y": {"field": "lvl", "type": "quantitative", "title": "Average daily gains (kg)"}, "text": {"field": "lab"}}}
 ]
 }
 ]
 }
]
}
